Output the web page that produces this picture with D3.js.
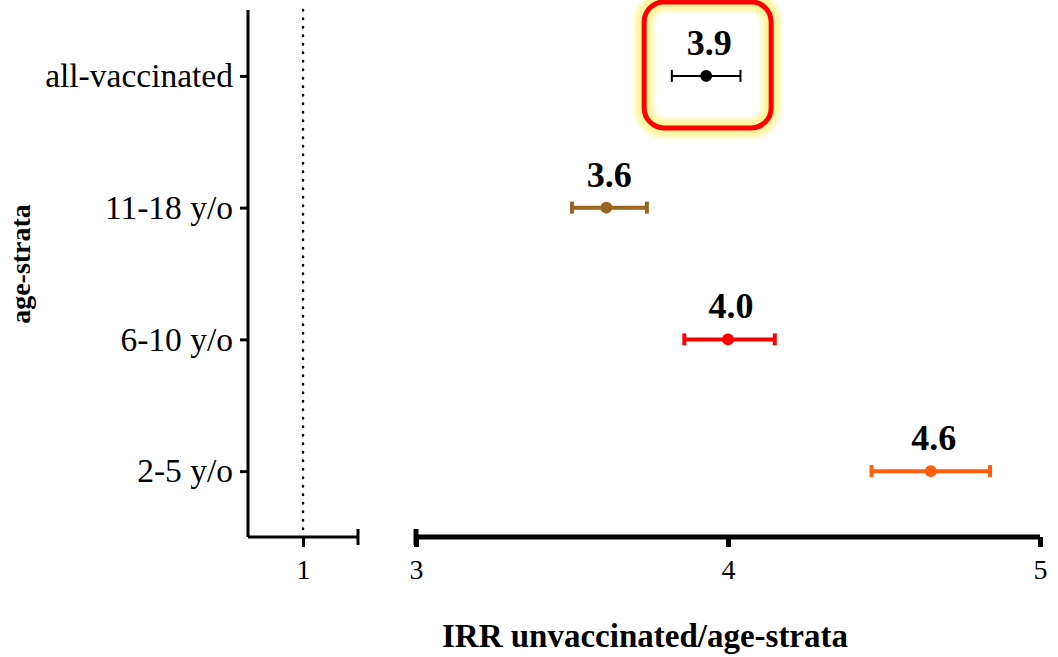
<!DOCTYPE html>
<html lang="en">
<head>
<meta charset="UTF-8">
<title>IRR by age-strata</title>
<script src="https://d3js.org/d3.v7.min.js"></script>
<style>
  body, html { margin: 0; padding: 0; background: #fff; overflow: hidden; }
  svg { display: block; }
  text { font-family: "Liberation Serif", "Times New Roman", serif; fill: #000; }
</style>
</head>
<body>
<svg></svg>
<script>
const width = 1058, height = 657;

// data
const categories = ["all-vaccinated", "11-18 y/o", "6-10 y/o", "2-5 y/o"];
const estimates = [3.93, 3.61, 4.0, 4.65];
const lowerCI = [3.82, 3.50, 3.86, 4.46];
const upperCI = [4.04, 3.74, 4.15, 4.84];
const valueLabels = ["3.9", "3.6", "4.0", "4.6"];
const colors = ["#000000", "#9b6420", "#ff0000", "#ff5f0a"];
const leftTicks = [1];
const rightTicks = [3, 4, 5];

const rows = categories.map((c, i) => ({
  cat: c, est: estimates[i], lo: lowerCI[i], hi: upperCI[i],
  label: valueLabels[i], color: colors[i]
}));

const svg = d3.select("svg").attr("width", width).attr("height", height);

const axisY = 537, plotTop = 10, yAxisX = 248;

const y = d3.scalePoint().domain(categories).range([plotTop, axisY]).padding(0.5);
const xLeft = d3.scaleLinear().domain([0.8, 1.2]).range([yAxisX, 358]);
const xRight = d3.scaleLinear().domain([3, 5]).range([416, 1040]);

// highlight box around the all-vaccinated row
const hy = y("all-vaccinated");
const hx = xRight(3.93);
const defs = svg.append("defs");
const glow = defs.append("filter").attr("id", "glow")
  .attr("x", "-20%").attr("y", "-20%").attr("width", "140%").attr("height", "140%");
glow.append("feGaussianBlur").attr("stdDeviation", 2.5);
svg.append("rect")
  .attr("x", hx - 62).attr("y", hy - 74).attr("width", 127).attr("height", 126)
  .attr("rx", 20)
  .attr("fill", "none").attr("stroke", "#fff59a").attr("stroke-width", 18)
  .attr("filter", "url(#glow)");
svg.append("rect")
  .attr("x", hx - 62).attr("y", hy - 74).attr("width", 127).attr("height", 126)
  .attr("rx", 20)
  .attr("fill", "none").attr("stroke", "#ff0000").attr("stroke-width", 5);

// dotted reference line at 1
svg.append("line")
  .attr("x1", xLeft(1)).attr("x2", xLeft(1))
  .attr("y1", plotTop).attr("y2", axisY)
  .attr("stroke", "#000").attr("stroke-width", 2.5)
  .attr("stroke-linecap", "round")
  .attr("stroke-dasharray", "0.5,8");

// y axis
const yAxis = svg.append("g")
  .attr("transform", `translate(${yAxisX},0)`)
  .call(d3.axisLeft(y).tickSize(8).tickPadding(7));
yAxis.select(".domain").attr("d", `M0,${plotTop}V${axisY}`).attr("stroke-width", 3);
yAxis.selectAll(".tick line").attr("stroke-width", 3);
yAxis.selectAll(".tick text")
  .style("font-family", '"Liberation Serif", serif')
  .style("font-size", "33.5px");

// left x axis segment
const gLeft = svg.append("g").attr("transform", `translate(0,${axisY})`)
  .call(d3.axisBottom(xLeft).tickValues(leftTicks).tickFormat(d3.format("d"))
    .tickSize(10).tickPadding(12));
gLeft.select(".domain").attr("d", `M${yAxisX},0H358`).attr("stroke-width", 3);
gLeft.selectAll(".tick line").attr("stroke-width", 3);
gLeft.append("line").attr("x1", 358).attr("x2", 358).attr("y1", -8).attr("y2", 8)
  .attr("stroke", "#000").attr("stroke-width", 3);

// right x axis segment
const gRight = svg.append("g").attr("transform", `translate(0,${axisY})`)
  .call(d3.axisBottom(xRight).tickValues(rightTicks).tickFormat(d3.format("d"))
    .tickSize(10).tickPadding(12));
gRight.select(".domain").attr("d", `M${xRight(3)},0H${xRight(5)}`).attr("stroke-width", 5);
gRight.selectAll(".tick line").attr("stroke-width", 5);
gRight.append("line").attr("x1", xRight(3)).attr("x2", xRight(3)).attr("y1", -8).attr("y2", 8)
  .attr("stroke", "#000").attr("stroke-width", 5);

[gLeft, gRight].forEach(g => g.selectAll(".tick text")
  .style("font-family", '"Liberation Serif", serif')
  .style("font-size", "28px"));

// error bars
const bars = svg.append("g").selectAll("g").data(rows).enter().append("g");
bars.append("line")
  .attr("x1", d => xRight(d.lo)).attr("x2", d => xRight(d.hi))
  .attr("y1", d => y(d.cat)).attr("y2", d => y(d.cat))
  .attr("stroke", d => d.color).attr("stroke-width", (d, i) => i === 0 ? 2 : 4);
["lo", "hi"].forEach(k => {
  bars.append("line")
    .attr("x1", d => xRight(d[k])).attr("x2", d => xRight(d[k]))
    .attr("y1", d => y(d.cat) - 6).attr("y2", d => y(d.cat) + 6)
    .attr("stroke", d => d.color).attr("stroke-width", (d, i) => i === 0 ? 2 : 4);
});
bars.append("circle")
  .attr("cx", d => xRight(d.est)).attr("cy", d => y(d.cat))
  .attr("r", 6).attr("fill", d => d.color);
bars.append("text")
  .attr("x", d => xRight(d.est) + 3).attr("y", d => y(d.cat) - 21)
  .attr("text-anchor", "middle")
  .style("font-size", "36px").style("font-weight", "bold")
  .text(d => d.label);

// axis titles
svg.append("text")
  .attr("x", 645).attr("y", 647)
  .attr("text-anchor", "middle")
  .style("font-size", "33px").style("font-weight", "bold")
  .text("IRR unvaccinated/age-strata");

svg.append("text")
  .attr("transform", "translate(30,264) rotate(-90)")
  .attr("text-anchor", "middle")
  .style("font-size", "28px").style("font-weight", "bold")
  .text("age-strata");
</script>
</body>
</html>
